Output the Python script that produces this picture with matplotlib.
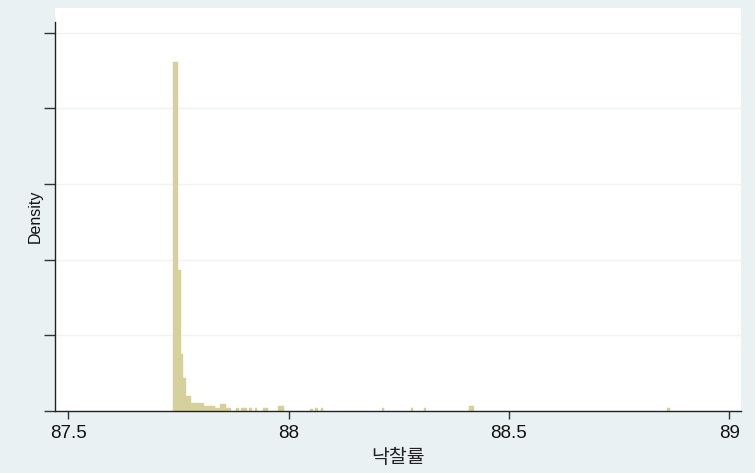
import matplotlib
matplotlib.use("Agg")
import matplotlib.pyplot as plt
import numpy as np

# Histogram of winning-bid rate (낙찰률): bins of equal width starting at bin_start
bin_start = 87.737
bin_width = 0.006
# bin index -> density
bin_index = [0, 1, 2, 3, 4, 5, 6,
             7, 8, 9, 10, 11,
             12, 13, 14, 15,
             16, 17, 18, 19, 20, 21,
             24, 26, 27, 29, 31, 34, 35,
             40, 41, 52, 54, 56, 79, 90, 95,
             112, 113, 187]
density = [46.2, 46.2, 18.6, 7.5, 4.33, 1.95, 1.95,
           0.98, 0.98, 0.98, 0.98, 0.98,
           0.66, 0.66, 0.66, 0.66,
           0.33, 0.33, 0.9, 0.9, 0.33, 0.33,
           0.33, 0.33, 0.33, 0.33, 0.33, 0.33, 0.33,
           0.66, 0.66, 0.22, 0.33, 0.33, 0.33, 0.33, 0.33,
           0.66, 0.66, 0.33]

x_ticks = [87.5, 88, 88.5, 89]
x_tick_labels = ["87.5", "88", "88.5", "89"]
y_ticks = [0, 10, 20, 30, 40, 50]

bg = "#EAF1F3"
bar_color = "#D6D09C"

fig = plt.figure(figsize=(7.55, 4.73), dpi=100, facecolor=bg)
W, H = 755, 473
left, right, top, bottom = 55.3, 740.7, 8, 410.7
ax = fig.add_axes([left / W, 1 - bottom / H, (right - left) / W, (bottom - top) / H])
ax.set_facecolor("white")

lefts = [bin_start + i * bin_width for i in bin_index]
ax.bar(lefts, density, width=bin_width, align="edge", color=bar_color,
       edgecolor=bar_color, linewidth=0.3, zorder=2)

ax.set_xlim(87.4705, 89.0264)
ax.set_ylim(0, 53.3)

ax.set_yticks(y_ticks)
ax.set_yticklabels([""] * len(y_ticks))
ax.set_xticks(x_ticks)
ax.set_xticklabels(x_tick_labels, fontsize=13.5, family="Liberation Sans", color="#111111")

for y in y_ticks[1:]:
    ax.axhline(y, color="#EEF4F5", linewidth=1.0, zorder=1)

for side in ["top", "right"]:
    ax.spines[side].set_visible(False)
ax.spines["left"].set_bounds(0, 51.5)
for side in ["left", "bottom"]:
    ax.spines[side].set_color("#222222")
    ax.spines[side].set_linewidth(1.0)

ax.tick_params(axis="x", direction="out", length=6, width=1, color="#333333", pad=4)
ax.tick_params(axis="y", direction="out", length=8, width=1, color="#333333")

ax.set_ylabel("Density", fontsize=11.5, family="Liberation Sans", color="#111111")
ax.yaxis.set_label_coords(-0.019, 0.4835)
ax.set_xlabel("낙찰률", fontsize=14, family=["Noto Sans CJK KR", "DejaVu Sans"],
              color="#222222")
ax.xaxis.set_label_coords(0.5, -0.0895)

fig.savefig("out.png", dpi=100, facecolor=bg)
